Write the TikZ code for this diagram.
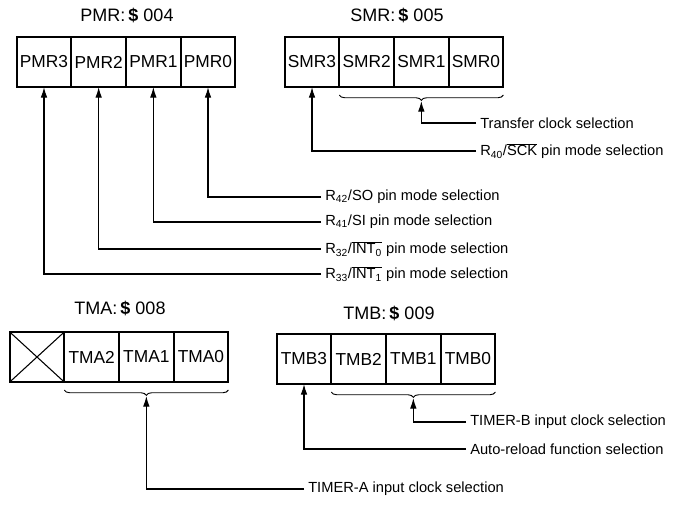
\documentclass[tikz,border=0pt]{standalone}
\usepackage{fontspec}
\setmainfont{Liberation Sans}
\usetikzlibrary{positioning,calc,arrows.meta,decorations.pathreplacing}

\begin{document}
\begin{tikzpicture}[
  x=0.75pt, y=-0.75pt,
  node distance=0pt,
  bit/.style={rectangle, draw, line width=0.8pt, minimum width=40.2pt,
              minimum height=36.8pt, inner sep=0pt, font=\fontsize{13}{15}\selectfont},
  regname/.style={font=\fontsize{13.5}{15}\selectfont},
  note/.style={anchor=west, inner xsep=3pt, font=\fontsize{11}{13}\selectfont},
  lead/.style={line width=0.85pt, -{Latex[length=8pt,width=5pt]}},
  grp/.style={decorate, decoration={brace, mirror, amplitude=4pt}, line width=0.7pt},
  frame/.style={line width=1.4pt},
]
  \useasboundingbox (0,0) rectangle (677,504);

  \node[regname] (pmrname) at (127,15) {PMR:\,\textbf{\$} 004};
  \node[bit] (pmr3) at (44,62) {PMR3};
  \node[bit, right=of pmr3] (pmr2) {PMR2};
  \node[bit, right=of pmr2] (pmr1) {PMR1};
  \node[bit, right=of pmr1] (pmr0) {PMR0};
  \draw[frame] (pmr3.north west) rectangle (pmr0.south east);

  \node[regname] (smrname) at (397,15) {SMR:\,\textbf{\$} 005};
  \node[bit] (smr3) at (312,62) {SMR3};
  \node[bit, right=of smr3] (smr2) {SMR2};
  \node[bit, right=of smr2] (smr1) {SMR1};
  \node[bit, right=of smr1] (smr0) {SMR0};
  \draw[frame] (smr3.north west) rectangle (smr0.south east);

  \node[regname] (tmaname) at (120,308) {TMA:\,\textbf{\$} 008};
  \node[bit] (tmax) at (37,357) {};
  \node[bit, right=of tmax] (tma2) {TMA2};
  \node[bit, right=of tma2] (tma1) {TMA1};
  \node[bit, right=of tma1] (tma0) {TMA0};
  \draw[frame] (tmax.north west) rectangle (tma0.south east);
  \draw[line width=0.8pt] (tmax.north west) -- (tmax.south east)
                          (tmax.south west) -- (tmax.north east);

  \node[regname] (tmbname) at (389,313) {TMB:\,\textbf{\$} 009};
  \node[bit] (tmb3) at (304,359) {TMB3};
  \node[bit, right=of tmb3] (tmb2) {TMB2};
  \node[bit, right=of tmb2] (tmb1) {TMB1};
  \node[bit, right=of tmb1] (tmb0) {TMB0};
  \draw[frame] (tmb3.north west) rectangle (tmb0.south east);

  \draw[grp] ($(smr2.south west)+(0,8)$) -- ($(smr0.south east)+(0,8)$);
  \draw[grp] ($(tma2.south west)+(0,8)$) -- ($(tma0.south east)+(0,8)$);
  \draw[grp] ($(tmb2.south west)+(0,8)$) -- ($(tmb0.south east)+(0,8)$);
  \coordinate (smrtip) at ($(smr2.south west)!0.5!(smr0.south east)+(0,14)$);
  \coordinate (tmatip) at ($(tma2.south west)!0.5!(tma0.south east)+(0,14)$);
  \coordinate (tmbtip) at ($(tmb2.south west)!0.5!(tmb0.south east)+(0,14)$);

  \node[note] (xfer) at (476,123) {Transfer clock selection};
  \node[note] (sck) at (476,151) {R\textsubscript{40}/$\overline{\mbox{SCK}}$ pin mode selection};
  \node[note] (so) at (321,197) {R\textsubscript{42}/SO pin mode selection};
  \node[note] (si) at (321,222) {R\textsubscript{41}/SI pin mode selection};
  \node[note] (int0) at (321,249) {R\textsubscript{32}/$\overline{\mbox{INT\textsubscript{0}}}$ pin mode selection};
  \node[note] (int1) at (321,274) {R\textsubscript{33}/$\overline{\mbox{INT\textsubscript{1}}}$ pin mode selection};
  \node[note] (tmbclk) at (466,422) {TIMER-B input clock selection};
  \node[note] (reload) at (466,449) {Auto-reload function selection};
  \node[note] (tmaclk) at (304,489) {TIMER-A input clock selection};

  \draw[lead] (xfer.west) -| (smrtip);
  \draw[lead] (sck.west) -| (smr3.south);
  \draw[lead] (so.west) -| (pmr0.south);
  \draw[lead] (si.west) -| (pmr1.south);
  \draw[lead] (int0.west) -| (pmr2.south);
  \draw[lead] (int1.west) -| (pmr3.south);
  \draw[lead] (tmbclk.west) -| (tmbtip);
  \draw[lead] (reload.west) -| (tmb3.south);
  \draw[lead] (tmaclk.west) -| (tmatip);
\end{tikzpicture}
\end{document}
